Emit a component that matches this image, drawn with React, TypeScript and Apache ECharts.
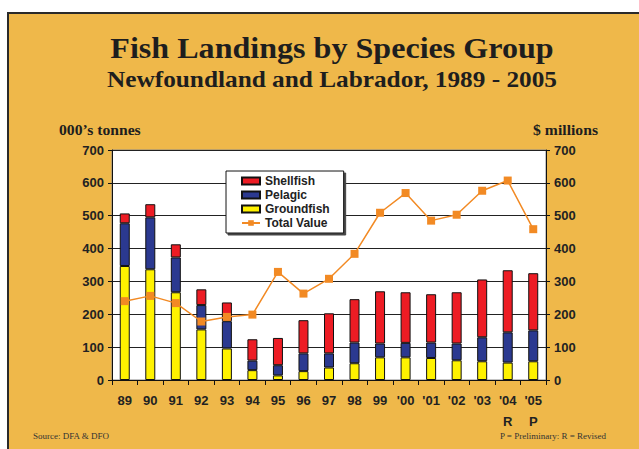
import React, { useEffect, useRef } from "react";
import * as echarts from "echarts";

const years = ["89", "90", "91", "92", "93", "94", "95", "96", "97", "98", "99", "'00", "'01", "'02", "'03", "'04\nR", "'05\nP"];
const groundfish = [347, 337, 267, 154, 96, 30, 14, 27, 38, 51, 69, 69, 67, 60, 57, 53, 57];
const pelagic = [130, 158, 106, 74, 83, 29, 31, 54, 43, 63, 42, 44, 47, 51, 73, 92, 94];
const shellfish = [30, 40, 40, 48, 57, 65, 83, 101, 122, 132, 159, 154, 147, 156, 176, 189, 174];
const totalValue = [240, 256, 234, 178, 192, 199, 329, 263, 308, 384, 509, 569, 485, 503, 576, 607, 459];

const SANS = "'Liberation Sans', Arial, sans-serif";
const SERIF = "'Liberation Serif', 'Times New Roman', serif";

export default function App() {
  const ref = useRef<HTMLDivElement>(null);
  useEffect(() => {
    if (!ref.current) return;
    const chart = echarts.init(ref.current, null, { renderer: "svg" });
    const barStyle = (c: string) => ({ color: c, borderColor: "#111", borderWidth: 1 });
    chart.setOption({
      animation: false,
      backgroundColor: "#ffffff",
      graphic: [
        {
          type: "rect",
          z: -10,
          shape: { x: 8, y: 13, width: 700, height: 500 },
          style: { fill: "#EFB84A", stroke: "#2a2a2a", lineWidth: 2 },
        },
        {
          type: "text",
          x: 332, y: 48, scaleX: 1.07,
          style: { text: "Fish Landings by Species Group", font: `bold 30px ${SERIF}`, fill: "#1e1e1e", align: "center", verticalAlign: "middle" },
        },
        {
          type: "text",
          x: 332, y: 79, scaleX: 1.1,
          style: { text: "Newfoundland and Labrador, 1989 - 2005", font: `bold 23px ${SERIF}`, fill: "#1e1e1e", align: "center", verticalAlign: "middle" },
        },
        {
          type: "text",
          x: 59, y: 130, scaleX: 1.12,
          style: { text: "000\u2019s tonnes", font: `bold 14px ${SERIF}`, fill: "#1e1e1e", align: "left", verticalAlign: "middle" },
        },
        {
          type: "text",
          x: 598, y: 130, scaleX: 1.12,
          style: { text: "$ millions", font: `bold 14px ${SERIF}`, fill: "#1e1e1e", align: "right", verticalAlign: "middle" },
        },
        {
          type: "text",
          x: 33, y: 436,
          style: { text: "Source: DFA & DFO", font: `9px ${SERIF}`, fill: "#333", align: "left", verticalAlign: "middle" },
        },
        {
          type: "text",
          x: 606, y: 436,
          style: { text: "P = Preliminary: R = Revised", font: `9px ${SERIF}`, fill: "#333", align: "right", verticalAlign: "middle" },
        },
      ],
      grid: {
        left: 112, right: 93, top: 150, bottom: 69,
        show: true, backgroundColor: "#ffffff", borderColor: "#888", borderWidth: 1,
      },
      legend: {
        data: [
          { name: "Shellfish", icon: "rect" },
          { name: "Pelagic", icon: "rect" },
          { name: "Groundfish", icon: "rect" },
          { name: "Total Value" },
        ],
        orient: "vertical",
        left: 226, top: 171,
        width: 120,
        itemWidth: 18, itemHeight: 7, itemGap: 2,
        padding: [4, 14, 4, 15],
        backgroundColor: "#ffffff",
        borderColor: "#111", borderWidth: 1,
        shadowColor: "#444", shadowBlur: 0, shadowOffsetX: 2, shadowOffsetY: 2,
        textStyle: { fontFamily: SANS, fontWeight: "bold", fontSize: 12, color: "#222", padding: [0, 0, 0, 0] },
      },
      xAxis: {
        type: "category",
        data: years,
        axisLine: { lineStyle: { color: "#111", width: 1 } },
        axisTick: { show: true, length: 5, lineStyle: { color: "#111" } },
        axisLabel: { fontFamily: SANS, fontWeight: "bold", fontSize: 13, color: "#222", lineHeight: 21, margin: 10, interval: 0 },
      },
      yAxis: [
        {
          type: "value", min: 0, max: 700, interval: 100,
          axisLine: { show: true, lineStyle: { color: "#111" } },
          axisTick: { show: true, length: 4, lineStyle: { color: "#111" } },
          splitLine: { lineStyle: { color: "#222", width: 1 } },
          axisLabel: { fontFamily: SANS, fontWeight: "bold", fontSize: 13, color: "#222", margin: 8 },
        },
        {
          type: "value", min: 0, max: 700, interval: 100,
          axisLine: { show: true, lineStyle: { color: "#111" } },
          axisTick: { show: true, length: 4, lineStyle: { color: "#111" } },
          splitLine: { show: false },
          axisLabel: { fontFamily: SANS, fontWeight: "bold", fontSize: 13, color: "#222", margin: 8 },
        },
      ],
      series: [
        { name: "Groundfish", type: "bar", stack: "l", data: groundfish, barWidth: 10, itemStyle: barStyle("#FFF200") },
        { name: "Pelagic", type: "bar", stack: "l", data: pelagic, barWidth: 10, itemStyle: barStyle("#2B3990") },
        { name: "Shellfish", type: "bar", stack: "l", data: shellfish, barWidth: 10, itemStyle: barStyle("#ED1C24") },
        {
          name: "Total Value", type: "line", yAxisIndex: 1, data: totalValue,
          symbol: "rect", symbolSize: 8,
          lineStyle: { color: "#F28A24", width: 1.5 },
          itemStyle: { color: "#F28A24" },
        },
      ],
    });
    return () => chart.dispose();
  }, []);
  return <div ref={ref} style={{ position: "fixed", left: 0, top: 0, width: 639, height: 449 }} />;
}
